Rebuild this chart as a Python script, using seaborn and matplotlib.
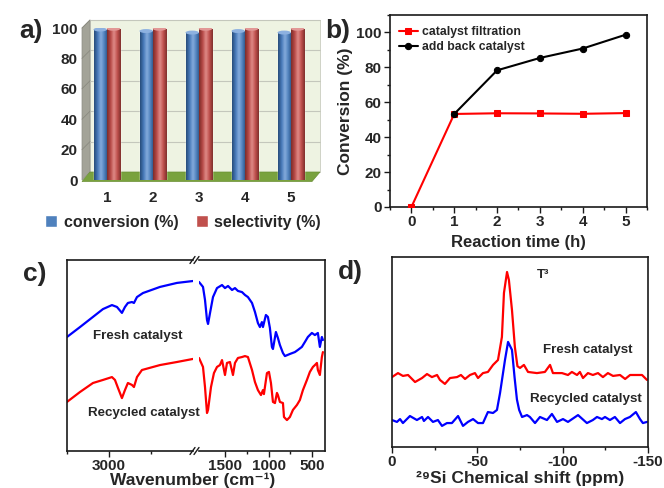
import numpy as np
import pandas as pd
import matplotlib
matplotlib.use("Agg")
import matplotlib.pyplot as plt
import seaborn as sns
from matplotlib.colors import LinearSegmentedColormap
from matplotlib.patches import Ellipse, Polygon, Rectangle
from matplotlib.lines import Line2D
from matplotlib.ticker import MultipleLocator, FixedLocator

# a) recycling runs
runs = ["1", "2", "3", "4", "5"]
conversion = [99.0, 98.0, 97.0, 98.0, 97.0]
selectivity = [99.5, 99.5, 99.5, 99.5, 99.5]

# b) hot filtration test
time_filtration = [0, 1, 2, 3, 4, 5]
conv_filtration = [0.0, 53.3, 53.7, 53.6, 53.4, 53.8]
time_addback = [1, 2, 3, 4, 5]
conv_addback = [53.3, 78.3, 85.4, 90.8, 98.7]

# c) FT-IR, high wavenumber segment
wn_fresh_hi = [3500, 3345, 3191, 3072, 2965, 2905, 2846, 2810, 2775, 2727, 2703, 2667, 2596, 2393, 2191, 2000]
ir_fresh_hi = [59.7, 64.9, 70.2, 74.3, 76.4, 75.4, 72.3, 75.4, 77.5, 78.0, 77.5, 80.6, 82.7, 85.9, 88.0, 89.0]
wn_recyc_hi = [3500, 3345, 3191, 3072, 2965, 2929, 2893, 2846, 2810, 2775, 2727, 2703, 2667, 2608, 2393, 2191, 2000]
ir_recyc_hi = [25.7, 30.9, 35.6, 37.2, 38.7, 37.2, 33.0, 27.7, 31.9, 35.6, 34.6, 33.5, 38.7, 42.4, 45.0, 46.6, 48.2]

# c) FT-IR, low wavenumber segment
wn_fresh_lo = [1800, 1754, 1731, 1708, 1696, 1673, 1639, 1593, 1535, 1501, 1466, 1420, 1386, 1352, 1305,
               1271, 1237, 1190, 1156, 1122, 1099, 1076, 1064, 1030, 1007, 984, 961, 949, 915, 892,
               869, 834, 811, 754, 696, 662, 616, 581, 547, 501, 466, 432, 409, 386, 374]
ir_fresh_lo = [88.5, 85.9, 79.1, 68.6, 66.5, 72.3, 80.6, 85.3, 86.9, 85.3, 86.4, 84.3, 85.3, 83.8, 83.2,
               81.7, 80.6, 77.5, 72.8, 67.0, 64.9, 67.5, 64.9, 71.2, 70.2, 64.4, 54.5, 53.4, 62.3, 59.2,
               55.5, 51.3, 49.7, 50.8, 51.8, 52.9, 54.5, 57.1, 59.7, 61.8, 60.7, 61.8, 54.5, 59.7, 58.1]
wn_recyc_lo = [1800, 1754, 1731, 1708, 1696, 1662, 1628, 1593, 1559, 1535, 1501, 1478, 1444, 1409, 1386,
               1352, 1305, 1271, 1237, 1190, 1156, 1122, 1087, 1064, 1053, 1018, 995, 972, 949, 926,
               903, 892, 869, 834, 822, 788, 754, 719, 673, 639, 604, 558, 524, 489, 466,
               443, 432, 409, 386, 374]
ir_recyc_lo = [48.7, 44.0, 33.5, 19.9, 21.5, 33.5, 40.8, 44.0, 45.0, 47.6, 39.8, 46.1, 46.6, 39.8, 46.1,
               48.7, 49.2, 49.7, 49.2, 42.4, 36.1, 31.9, 29.3, 31.9, 29.8, 40.8, 41.4, 35.6, 25.7, 25.1,
               30.4, 29.3, 25.7, 25.1, 17.8, 16.2, 17.8, 21.5, 24.1, 26.7, 31.9, 37.2, 41.4, 44.0, 45.0,
               46.1, 42.4, 39.8, 49.2, 51.8]

# d) 29Si NMR
ppm_fresh = [0, -3.5, -6.4, -9.4, -13.5, -17.6, -20.5, -23.4, -26.4, -28.1, -31.0, -34.0, -38.1, -40.4,
             -42.8, -45.7, -48.6, -50.4, -53.3, -56.2, -59.2, -62.1, -64.4, -65.6, -67.4, -68.5, -70.3,
             -72.0, -73.5, -75.0, -77.3, -79.7, -84.9, -89.6, -92.6, -94.3, -99.6, -103.1, -105.4,
             -108.4, -110.1, -111.9, -114.8, -117.7, -120.7, -123.6, -126.5, -129.5, -133.6, -136.6,
             -139.5, -143.6, -146.5, -149.4]
nmr_fresh = [36.8, 38.9, 37.4, 37.9, 34.2, 36.3, 38.4, 36.8, 37.9, 35.3, 33.2, 36.3, 36.8, 37.9,
             35.8, 37.9, 38.9, 36.3, 38.9, 39.5, 43.2, 45.8, 57.9, 81.1, 92.1, 87.9, 72.1,
             52.6, 42.5, 41.6, 43.2, 39.5, 38.9, 39.5, 43.2, 38.9, 38.9, 37.9, 39.5,
             37.9, 39.5, 36.3, 38.9, 37.9, 38.9, 36.8, 38.9, 37.4, 37.9, 35.8,
             37.9, 37.9, 37.9, 35.3]
ppm_recyc = [0, -2.9, -4.7, -6.4, -10.5, -14.6, -17.6, -18.7, -21.1, -24.0, -26.9, -29.3, -32.2, -35.1,
             -38.7, -41.6, -44.5, -47.5, -50.4, -53.3, -56.2, -59.2, -61.5, -63.3, -66.2, -68.0, -70.3,
             -71.8, -73.2, -74.5, -76.2, -79.1, -80.8, -83.8, -86.7, -90.8, -93.7, -96.7, -100.2,
             -103.1, -109.0, -114.2, -117.7, -120.1, -123.0, -124.8, -127.7, -130.6, -133.6, -136.5,
             -139.4, -142.9, -145.3, -147.0, -149.4]
nmr_recyc = [14.2, 13.2, 14.7, 12.6, 16.3, 14.2, 15.8, 13.7, 15.8, 13.2, 14.2, 11.1, 12.6, 12.6,
             16.3, 11.1, 13.2, 14.7, 12.6, 12.6, 18.4, 17.9, 19.5, 28.4, 45.8, 55.3, 51.1,
             36.8, 25.0, 19.5, 15.8, 16.8, 15.8, 12.6, 15.8, 14.2, 17.4, 13.2, 14.7,
             13.2, 16.8, 12.6, 14.2, 15.8, 14.7, 15.8, 14.2, 15.8, 12.6, 14.7,
             15.8, 18.4, 14.7, 12.6, 13.2]

sns.set_style("ticks")
plt.rcParams["font.family"] = ["Liberation Sans", "DejaVu Sans"]
plt.rcParams["font.weight"] = "bold"
plt.rcParams["axes.labelweight"] = "bold"
plt.rcParams["axes.unicode_minus"] = False
plt.rcParams["mathtext.fontset"] = "custom"
plt.rcParams["mathtext.rm"] = "Liberation Sans:bold"
plt.rcParams["mathtext.bf"] = "Liberation Sans:bold"
plt.rcParams["mathtext.default"] = "bf"

W, H = 664, 488
fig = plt.figure(figsize=(W / 100, H / 100), dpi=100)


def box(left, top, right, bottom):
    return [left / W, 1 - bottom / H, (right - left) / W, (bottom - top) / H]


def ftext(px, py, s, **kw):
    fig.text(px / W, 1 - py / H, s, ha="center", va="center", **kw)


def frame(ax, lw=1.2):
    for sp in ax.spines.values():
        sp.set_visible(True)
        sp.set_linewidth(lw)
        sp.set_color("#1a1a1a")
    ax.tick_params(which="both", direction="out", width=1.0, labelsize=11, color="#1a1a1a", pad=2)
    ax.tick_params(which="major", length=4)
    ax.tick_params(which="minor", length=2.5)


BLUE, RED = "#4F81BD", "#C0504D"

# ---------------- a) bar chart with a pseudo-3D look
ax_a = fig.add_axes(box(82, 28, 312, 180))
df_a = pd.DataFrame({
    "run": runs * 2,
    "metric": ["conversion (%)"] * len(runs) + ["selectivity (%)"] * len(runs),
    "value": conversion + selectivity,
})
sns.barplot(data=df_a, x="run", y="value", hue="metric", palette=[BLUE, RED],
            width=0.58, gap=0, saturation=1, errorbar=None, ax=ax_a, zorder=3)
ax_a.set_xlim(-0.54, 4.46)
ax_a.set_ylim(0, 100)
ax_a.set_yticks(range(0, 101, 20))
ax_a.set_xlabel("")
ax_a.set_ylabel("")
ax_a.patch.set_visible(False)
for sp in ax_a.spines.values():
    sp.set_visible(False)
ax_a.tick_params(length=0, labelsize=11)
ax_a.tick_params(axis="x", pad=8)
ax_a.tick_params(axis="y", pad=3)

dx, dy = 8 / 230, 8 / 152
ax_a.add_patch(Rectangle((dx, dy), 1, 1, transform=ax_a.transAxes, fc="#EEF3E2",
                         ec="#C9CCC0", lw=0.6, zorder=0, clip_on=False))
ax_a.add_patch(Polygon([(0, 0), (dx, dy), (dx, 1 + dy), (0, 1)], closed=True,
                       transform=ax_a.transAxes, fc="#A3A398", ec="#8E8E84", lw=0.5,
                       zorder=0.2, clip_on=False))
for v in ax_a.get_yticks()[1:]:
    f = v / 100
    ax_a.plot([dx, 1 + dx], [f + dy, f + dy], transform=ax_a.transAxes, color="#C4C7BC",
              lw=0.8, zorder=0.5, clip_on=False)
    ax_a.plot([0, dx], [f, f + dy], transform=ax_a.transAxes, color="#8A8A80",
              lw=0.6, zorder=0.5, clip_on=False)
ax_a.add_patch(Polygon([(0, -0.01), (1, -0.01), (1 + dx, dy), (dx, dy)], closed=True,
                       transform=ax_a.transAxes, fc="#79A23E", ec="#6A8F35", lw=0.5,
                       zorder=1, clip_on=False))

shades = [
    (["#274B78", "#4678B8", "#86ACDD", "#4F81BD", "#2A4F7E"], "#8DB1E0"),
    (["#7A2C2A", "#B64845", "#E08C89", "#C0504D", "#7E2F2C"], "#E29896"),
]
grad = np.linspace(0, 1, 64)[None, :]
for cont, (cols, cap) in zip(ax_a.containers, shades):
    cmap = LinearSegmentedColormap.from_list("cyl", cols)
    for bar in cont:
        x0, w, h = bar.get_x(), bar.get_width(), bar.get_height()
        im = ax_a.imshow(grad, extent=[x0, x0 + w, 0, h], aspect="auto", cmap=cmap,
                         zorder=3.1, interpolation="bicubic")
        im.set_clip_path(bar)
        ax_a.add_patch(Ellipse((x0 + w / 2, h), w, 2.6, fc=cap, ec="none", zorder=3.2))
ax_a.set_xlim(-0.54, 4.46)
ax_a.set_ylim(0, 100)

sns.move_legend(ax_a, "center", bbox_to_anchor=(183 / W, 1 - 222 / H),
                bbox_transform=fig.transFigure, ncol=2, title=None, frameon=False,
                prop={"weight": "bold", "size": 11.5}, handlelength=0.75, handleheight=0.75,
                columnspacing=1.1, handletextpad=0.4)

# ---------------- b) hot filtration
ax_b = fig.add_axes(box(390, 15, 647, 207))
sns.lineplot(x=time_filtration, y=conv_filtration, color="#FF0000", marker="s", markersize=4.5,
             markeredgecolor="#FF0000", lw=1.5, label="catalyst filtration", ax=ax_b, zorder=3)
sns.lineplot(x=time_addback, y=conv_addback, color="black", marker="o", markersize=4.5,
             markeredgecolor="black", lw=1.5, label="add back catalyst", ax=ax_b, zorder=4)
ax_b.set_xlim(-0.5, 5.5)
ax_b.set_ylim(0, 110)
ax_b.set_xticks(range(0, 6))
ax_b.set_yticks(range(0, 101, 20))
ax_b.xaxis.set_minor_locator(MultipleLocator(0.5))
ax_b.yaxis.set_minor_locator(MultipleLocator(10))
frame(ax_b)
ax_b.set_xlabel("Reaction time (h)", fontsize=12, labelpad=4)
ax_b.set_ylabel("Conversion (%)", fontsize=12.5, labelpad=2)
ax_b.legend(loc="upper left", bbox_to_anchor=(0.0, 0.985), frameon=False,
            prop={"weight": "bold", "size": 8.8}, handlelength=1.6, handletextpad=0.3,
            labelspacing=0.25, borderaxespad=0.3)

# ---------------- c) FT-IR with broken axis
ax_c1 = fig.add_axes(box(67, 260, 193, 451))
ax_c2 = fig.add_axes(box(199, 260, 325, 451))
for ax, segs in ((ax_c1, [(wn_fresh_hi, ir_fresh_hi, "#0000FF"), (wn_recyc_hi, ir_recyc_hi, "#FF0000")]),
                 (ax_c2, [(wn_fresh_lo, ir_fresh_lo, "#0000FF"), (wn_recyc_lo, ir_recyc_lo, "#FF0000")])):
    for wn, val, col in segs:
        sns.lineplot(x=wn, y=val, color=col, lw=1.6, sort=False, estimator=None, ax=ax)
    frame(ax)
    ax.tick_params(axis="x", pad=1.5)
    ax.set_ylim(0, 100)
    ax.set_yticks([])
    ax.set_ylabel("")
    ax.set_xlabel("")
ax_c1.set_xlim(3500, 2000)
ax_c1.xaxis.set_major_locator(FixedLocator([3000]))
ax_c1.xaxis.set_minor_locator(FixedLocator([3500, 2500]))
ax_c1.spines["right"].set_visible(False)
ax_c2.set_xlim(1800, 350)
ax_c2.xaxis.set_major_locator(FixedLocator([1500, 1000, 500]))
ax_c2.xaxis.set_minor_locator(FixedLocator([1250, 750]))
ax_c2.spines["left"].set_visible(False)
for yb in (451, 260):
    for x0 in (190, 194):
        fig.add_artist(Line2D([x0 / W, (x0 + 5) / W], [1 - (yb + 3.5) / H, 1 - (yb - 3.5) / H],
                              color="#1a1a1a", lw=1.0))
ftext(193, 480, "Wavenumber (cm\u207b\u00b9)", fontsize=12.5, fontweight="bold")
ftext(138, 336, "Fresh catalyst", fontsize=9.6, fontweight="bold")
ftext(144, 413, "Recycled catalyst", fontsize=9.6, fontweight="bold")

# ---------------- d) 29Si NMR
ax_d = fig.add_axes(box(392, 257, 648, 447))
sns.lineplot(x=ppm_fresh, y=nmr_fresh, color="#FF0000", lw=1.6, sort=False, estimator=None, ax=ax_d)
sns.lineplot(x=ppm_recyc, y=nmr_recyc, color="#0000FF", lw=1.6, sort=False, estimator=None, ax=ax_d)
ax_d.set_xlim(0, -150)
ax_d.set_ylim(0, 100)
ax_d.set_xticks([0, -50, -100, -150])
ax_d.xaxis.set_minor_locator(MultipleLocator(25))
ax_d.set_yticks([])
frame(ax_d)
ax_d.set_xlabel("")
ax_d.set_ylabel("")
ftext(520, 478, "\u00b2\u2079Si Chemical shift (ppm)", fontsize=12.5, fontweight="bold")
ftext(543, 275, "T\u00b3", fontsize=9.5)
ftext(588, 350, "Fresh catalyst", fontsize=9.6, fontweight="bold")
ftext(586, 399, "Recycled catalyst", fontsize=9.6, fontweight="bold")

# panel letters
for px, py, s in ((31, 31, "a)"), (338, 31, "b)"), (35, 274, "c)"), (350, 272, "d)")):
    ftext(px, py, s, fontsize=19, fontweight="bold")

fig.savefig("out.png", dpi=100)
